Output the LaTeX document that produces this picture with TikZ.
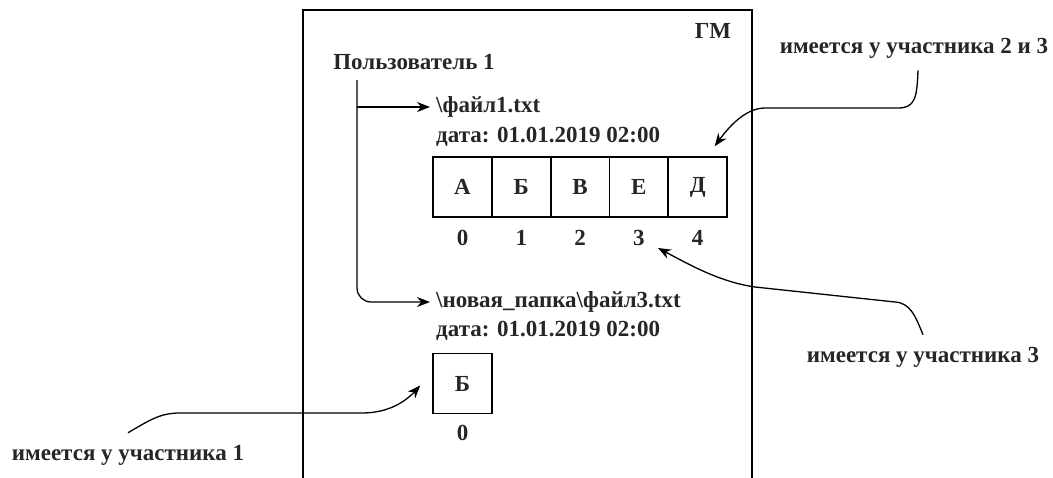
\documentclass[tikz,border=0pt]{standalone}
\usepackage{fontspec}
\setmainfont{Liberation Serif}
\usetikzlibrary{arrows.meta,calc}
\begin{document}
\begin{tikzpicture}[x=1pt,y=-1pt,
  lbl/.style={font=\bfseries\fontsize{23}{26}\selectfont, inner sep=0pt, text=black!85},
  cell/.style={draw, line width=1.5pt, minimum width=59pt, minimum height=60pt, inner sep=0pt, font=\bfseries\fontsize{23}{26}\selectfont, text=black!85},
  conn/.style={line width=1.3pt, -{Stealth[length=13pt,width=10pt]}},
  frame/.style={line width=1.6pt}]
\useasboundingbox (0,0) rectangle (1053,477);
\draw[frame] (303,480) -- (303,10) -- (752,10) -- (752,480);
\node[lbl] (gm) at (713,31) {ГМ};
\node[lbl] (user) at (414,62) {Пользователь 1};
\node[lbl, anchor=west] (f1name) at (436,107) {\textbackslash файл1.txt};
\node[lbl, anchor=west] (f1date) at (436,137) {дата: 01.01.2019 02:00};
\foreach \i/\t in {0/А,1/Б,2/В,3/Е,4/Д}{
  \node[cell] (c\i) at ({462.5+58.8*\i},187) {\t};
  \node[lbl] (i\i) at ({462.5+58.8*\i},238) {\i};
}
\node[lbl, anchor=west] (f3name) at (436,302) {\textbackslash новая\_папка\textbackslash файл3.txt};
\node[lbl, anchor=west] (f3date) at (436,331) {дата: 01.01.2019 02:00};
\node[cell] (b0) at (462.5,383.5) {Б};
\node[lbl] (j0) at (462.5,433) {0};
\node[lbl] (n1) at (128,455) {имеется у участника 1};
\node[lbl] (n23) at (914,48) {имеется у участника 2 и 3};
\node[lbl] (n3) at (923,357) {имеется у участника 3};
\coordinate (ustart) at (357,80);
\draw[conn, rounded corners=14pt] (ustart) |- ([xshift=-6pt]f3name.west);
\draw[conn] (ustart |- f1name.west) -- ([xshift=-6pt]f1name.west);
\draw[conn] ([yshift=12pt]n1.north) .. controls (150,420) and (160,413) .. (180,413) -- (362,413) .. controls (388,413) and (405,402) .. ([xshift=-12pt,yshift=-2pt]b0.west);
\draw[conn] ([xshift=4pt,yshift=-12pt]n23.south) .. controls (917,98) and (915,108) .. (898,108) -- (765,108) .. controls (745,108) and (728,128) .. ([xshift=17pt,yshift=10pt]c4.north);
\draw[conn] ([yshift=12pt]n3.north) .. controls (915,315) and (910,303) .. (895,302) -- (755,287) .. controls (720,282) and (690,265) .. (658,248);
\end{tikzpicture}
\end{document}
